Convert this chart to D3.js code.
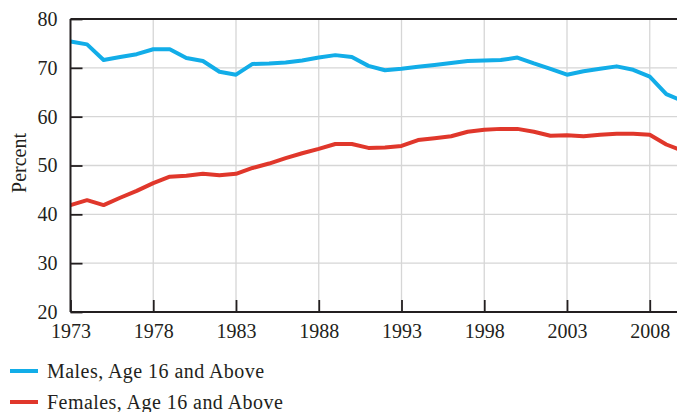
<!DOCTYPE html>
<html><head><meta charset="utf-8">
<script src="https://cdn.jsdelivr.net/npm/d3@7"></script>
<style>body{margin:0;background:#fff}svg{display:block}text{font-family:"Liberation Serif","Times New Roman",serif;fill:#231f20}</style>
</head><body>
<svg id="c" width="677" height="412"></svg>
<script>
const years = d3.range(1973, 2011);
const males = [75.4,74.8,71.6,72.2,72.8,73.8,73.8,72.0,71.4,69.2,68.6,70.8,70.9,71.1,71.5,72.1,72.6,72.2,70.4,69.5,69.8,70.2,70.6,71.0,71.4,71.5,71.6,72.1,70.9,69.8,68.6,69.3,69.8,70.3,69.6,68.2,64.6,63.2];
const females = [41.9,42.9,41.9,43.4,44.8,46.4,47.7,47.9,48.3,48.0,48.3,49.5,50.4,51.5,52.5,53.4,54.4,54.4,53.6,53.7,54.0,55.2,55.6,56.0,56.9,57.3,57.5,57.5,56.9,56.1,56.2,56.0,56.3,56.5,56.5,56.3,54.3,53.0];
const xTicks = [1973,1978,1983,1988,1993,1998,2003,2008];
const yTicks = [20,30,40,50,60,70,80];
const seriesNames = ["Males, Age 16 and Above","Females, Age 16 and Above"];
const colors = ["#12ade8","#e0372b"];

const svg = d3.select("#c");
const L = 70.5, T = 19, B = 312;
const x = d3.scaleLinear().domain([1973, 2010]).range([L, L + 37*16.55]);
const y = d3.scaleLinear().domain([20, 80]).range([B, T]);
const R = 677;

const g = svg.append("g");
// grid
g.selectAll(".gx").data(xTicks.slice(1)).join("line")
  .attr("x1", d=>x(d)).attr("x2", d=>x(d)).attr("y1", T).attr("y2", B)
  .attr("stroke", "#d6d6d6").attr("stroke-width", 1.3);
g.selectAll(".gy").data(yTicks.slice(1,-1)).join("line")
  .attr("x1", L).attr("x2", R).attr("y1", d=>y(d)).attr("y2", d=>y(d))
  .attr("stroke", "#d6d6d6").attr("stroke-width", 1.3);

// lines
const line = d3.line().x((d,i)=>x(years[i])).y(d=>y(d));
[males, females].forEach((s,k)=>{
  g.append("path").datum(s).attr("d", line).attr("fill","none")
   .attr("stroke", colors[k]).attr("stroke-width", 4).attr("stroke-linejoin","round");
});

// axes
const ax = d3.axisBottom(x).tickValues(xTicks).tickFormat(d3.format("d")).tickSizeInner(-12).tickSizeOuter(0);
const xg = svg.append("g").attr("transform", `translate(0,${B})`).call(ax);
xg.select(".domain").remove();
xg.selectAll(".tick line").attr("stroke","#231f20").attr("stroke-width",1.8);
xg.selectAll("text").attr("font-size", 20).attr("dy", null).attr("y", 26);

const ay = d3.axisLeft(y).tickValues(yTicks).tickSizeInner(-12).tickSizeOuter(0).tickPadding(13);
const yg = svg.append("g").attr("transform", `translate(${L},0)`).call(ay);
yg.select(".domain").remove();
yg.selectAll(".tick line").attr("stroke","#231f20").attr("stroke-width",1.8);
yg.selectAll("text").attr("font-size", 20);

// frame
svg.append("line").attr("x1",L).attr("x2",R).attr("y1",B).attr("y2",B).attr("stroke","#231f20").attr("stroke-width",2);
svg.append("line").attr("x1",L).attr("x2",R).attr("y1",T).attr("y2",T).attr("stroke","#231f20").attr("stroke-width",1.8);
svg.append("line").attr("x1",L).attr("x2",L).attr("y1",T).attr("y2",B).attr("stroke","#231f20").attr("stroke-width",2);

svg.append("text").attr("transform","translate(26,163) rotate(-90)").attr("text-anchor","middle")
  .attr("font-size",20).text("Percent");

// legend
seriesNames.forEach((n,k)=>{
  const ly = 371 + k*31;
  svg.append("line").attr("x1",10).attr("x2",38).attr("y1",ly).attr("y2",ly)
    .attr("stroke",colors[k]).attr("stroke-width",4);
  svg.append("text").attr("x",47).attr("y",ly+7).attr("font-size",20).attr("letter-spacing",0.45).text(n);
});
</script>
</body></html>
